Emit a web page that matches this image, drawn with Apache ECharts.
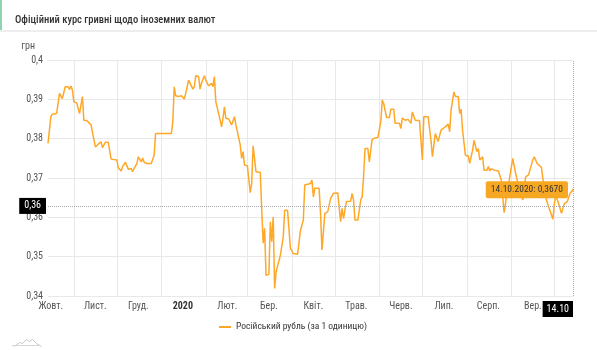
<!DOCTYPE html>
<html lang="uk">
<head>
<meta charset="utf-8">
<title>Офіційний курс гривні щодо іноземних валют</title>
<script src="https://cdn.jsdelivr.net/npm/echarts@6/dist/echarts.min.js"></script>
<style>
  html, body { margin: 0; padding: 0; background: #ffffff; }
  #chart { width: 597px; height: 350px; }
</style>
</head>
<body>
<div id="chart"></div>
<script>
// Official UAH rate for the Russian rouble, one year of quotes.
const titleText = 'Офіційний курс гривні щодо іноземних валют';
const seriesName = 'Російський рубль (за 1 одиницю)';
const unitName = 'грн';
const rangeStart = '2019-10-14';
const rangeEnd = '2020-10-14';
const monthNames = ['Січ.', 'Лют.', 'Бер.', 'Квіт.', 'Трав.', 'Черв.', 'Лип.', 'Серп.', 'Вер.', 'Жовт.', 'Лист.', 'Груд.'];
const yMin = 0.34, yMax = 0.40, yStep = 0.01;
const crosshairRate = 0.3629;

const rateDates = [
  '2019-10-14','2019-10-16','2019-10-17','2019-10-20','2019-10-22','2019-10-23','2019-10-24','2019-10-25',
  '2019-10-26','2019-10-28','2019-10-29','2019-10-30','2019-10-31','2019-11-01','2019-11-03','2019-11-05',
  '2019-11-07','2019-11-08','2019-11-10','2019-11-13','2019-11-16','2019-11-17','2019-11-18','2019-11-20',
  '2019-11-21','2019-11-23','2019-11-25','2019-11-27','2019-12-01','2019-12-02','2019-12-04','2019-12-05',
  '2019-12-07','2019-12-08','2019-12-09','2019-12-11','2019-12-12','2019-12-13','2019-12-14','2019-12-15',
  '2019-12-16','2019-12-18','2019-12-19','2019-12-20','2019-12-22','2019-12-25','2019-12-26','2019-12-27',
  '2019-12-28','2020-01-08','2020-01-09','2020-01-10','2020-01-11','2020-01-13','2020-01-15','2020-01-16',
  '2020-01-17','2020-01-18','2020-01-19','2020-01-20','2020-01-21','2020-01-23','2020-01-24','2020-01-25',
  '2020-01-27','2020-01-28','2020-01-29','2020-01-31','2020-02-01','2020-02-02','2020-02-03','2020-02-04',
  '2020-02-05','2020-02-06','2020-02-07','2020-02-08','2020-02-09','2020-02-11','2020-02-12','2020-02-13',
  '2020-02-14','2020-02-15','2020-02-17','2020-02-18','2020-02-19','2020-02-21','2020-02-22','2020-02-23',
  '2020-02-25','2020-02-26','2020-02-27','2020-02-28','2020-03-01','2020-03-03','2020-03-04','2020-03-05',
  '2020-03-07','2020-03-10','2020-03-11','2020-03-12','2020-03-13','2020-03-14','2020-03-16','2020-03-17',
  '2020-03-18','2020-03-19','2020-03-20','2020-03-21','2020-03-22','2020-03-24','2020-03-26','2020-03-27',
  '2020-03-29','2020-03-31','2020-04-02','2020-04-05','2020-04-07','2020-04-08','2020-04-09','2020-04-10',
  '2020-04-12','2020-04-14','2020-04-15','2020-04-16','2020-04-17','2020-04-20','2020-04-21','2020-04-22',
  '2020-04-24','2020-04-26','2020-04-28','2020-04-29','2020-04-30','2020-05-03','2020-05-04','2020-05-05',
  '2020-05-06','2020-05-07','2020-05-09','2020-05-12','2020-05-13','2020-05-14','2020-05-15','2020-05-17',
  '2020-05-19','2020-05-20','2020-05-21','2020-05-22','2020-05-24','2020-05-25','2020-05-26','2020-05-27',
  '2020-05-29','2020-05-31','2020-06-02','2020-06-03','2020-06-04','2020-06-06','2020-06-08','2020-06-09',
  '2020-06-11','2020-06-12','2020-06-15','2020-06-16','2020-06-17','2020-06-19','2020-06-21','2020-06-23',
  '2020-06-24','2020-06-26','2020-06-29','2020-07-01','2020-07-02','2020-07-05','2020-07-07','2020-07-08',
  '2020-07-10','2020-07-11','2020-07-12','2020-07-14','2020-07-15','2020-07-17','2020-07-19','2020-07-20',
  '2020-07-21','2020-07-23','2020-07-24','2020-07-26','2020-07-27','2020-07-28','2020-07-29','2020-07-31',
  '2020-08-02','2020-08-03','2020-08-05','2020-08-06','2020-08-08','2020-08-09','2020-08-10','2020-08-12',
  '2020-08-13','2020-08-15','2020-08-16','2020-08-17','2020-08-18','2020-08-20','2020-08-23','2020-08-25',
  '2020-08-26','2020-08-27','2020-08-29','2020-08-31','2020-09-02','2020-09-04','2020-09-06','2020-09-09',
  '2020-09-11','2020-09-13','2020-09-16','2020-09-17','2020-09-19','2020-09-22','2020-09-23','2020-09-25',
  '2020-09-27','2020-09-30','2020-10-01','2020-10-02','2020-10-04','2020-10-06','2020-10-07','2020-10-08',
  '2020-10-10','2020-10-12','2020-10-14'
];

const rateValues = [
  0.3788,0.3856,0.3862,0.3864,0.3915,0.3913,0.3902,0.3902,
  0.3932,0.3932,0.3925,0.3934,0.3924,0.3894,0.3891,0.3864,
  0.3907,0.3847,0.3846,0.3835,0.3779,0.3775,0.3786,0.3792,
  0.3777,0.3791,0.3791,0.3748,0.3746,0.3726,0.3718,0.3729,
  0.3740,0.3737,0.3722,0.3724,0.3716,0.3724,0.3720,0.3737,
  0.3754,0.3741,0.3751,0.3740,0.3737,0.3737,0.3741,0.3758,
  0.3813,0.3813,0.3843,0.3932,0.3909,0.3907,0.3909,0.3913,
  0.3901,0.3915,0.3917,0.3949,0.3947,0.3926,0.3932,0.3960,
  0.3958,0.3926,0.3941,0.3960,0.3949,0.3952,0.3934,0.3932,
  0.3941,0.3932,0.3958,0.3894,0.3890,0.3847,0.3830,0.3852,
  0.3881,0.3852,0.3850,0.3847,0.3835,0.3856,0.3835,0.3833,
  0.3784,0.3750,0.3767,0.3733,0.3731,0.3663,0.3686,0.3782,
  0.3716,0.3714,0.3620,0.3534,0.3572,0.3453,0.3455,0.3589,
  0.3538,0.3601,0.3419,0.3461,0.3461,0.3504,0.3550,0.3618,
  0.3618,0.3521,0.3508,0.3506,0.3567,0.3567,0.3593,0.3682,
  0.3684,0.3686,0.3695,0.3652,0.3674,0.3674,0.3610,0.3517,
  0.3610,0.3614,0.3648,0.3652,0.3661,0.3662,0.3661,0.3589,
  0.3623,0.3597,0.3640,0.3641,0.3661,0.3644,0.3593,0.3593,
  0.3644,0.3652,0.3703,0.3775,0.3775,0.3741,0.3746,0.3798,
  0.3802,0.3803,0.3843,0.3898,0.3890,0.3854,0.3854,0.3875,
  0.3875,0.3839,0.3839,0.3826,0.3852,0.3847,0.3849,0.3839,
  0.3868,0.3847,0.3846,0.3746,0.3856,0.3856,0.3796,0.3754,
  0.3813,0.3813,0.3793,0.3822,0.3820,0.3830,0.3837,0.3818,
  0.3873,0.3919,0.3907,0.3907,0.3864,0.3875,0.3822,0.3758,
  0.3756,0.3737,0.3771,0.3796,0.3767,0.3775,0.3746,0.3754,
  0.3720,0.3720,0.3729,0.3718,0.3724,0.3720,0.3718,0.3695,
  0.3652,0.3612,0.3660,0.3705,0.3750,0.3712,0.3680,0.3644,
  0.3703,0.3708,0.3746,0.3754,0.3737,0.3727,0.3699,0.3650,
  0.3627,0.3595,0.3635,0.3655,0.3635,0.3610,0.3610,0.3635,
  0.3640,0.3661,0.3670
];

const lineColor = '#ffa726';
const fontFamily = '"Roboto Condensed", "Liberation Sans Narrow", "DejaVu Sans Condensed", Roboto, sans-serif';

// one category per calendar day
function dayList(from, to) {
  const out = [];
  const end = Date.parse(to + 'T00:00:00Z');
  for (let t = Date.parse(from + 'T00:00:00Z'); t <= end; t += 86400000) {
    out.push(new Date(t).toISOString().slice(0, 10));
  }
  return out;
}
const days = dayList(rangeStart, rangeEnd);
const lastDay = days.length - 1;

const uaNumber = (v, digits) => v.toFixed(digits).replace('.', ',');
const uaDate = (iso) => iso.slice(8, 10) + '.' + iso.slice(5, 7) + '.' + iso.slice(0, 4);

const lastIdx = rateDates.length - 1;
const seriesData = rateDates.map((d, i) => {
  const item = { value: [d, rateValues[i]] };
  if (i === lastIdx) {
    item.symbol = 'circle';
    item.symbolSize = 2;
    item.label = {
      show: true,
      position: 'left',
      distance: 4,
      formatter: () => uaDate(d) + ': ' + uaNumber(rateValues[i], 4),
      backgroundColor: '#f7a823',
      color: '#333333',
      fontFamily: fontFamily,
      fontSize: 9.5,
      padding: [4, 5, 3, 5],
      borderRadius: 2
    };
  }
  return item;
});

const chart = echarts.init(document.getElementById('chart'), null, { renderer: 'canvas' });
chart.setOption({
  animation: false,
  backgroundColor: '#ffffff',
  textStyle: { fontFamily: fontFamily },
  title: {
    text: titleText,
    left: 10,
    top: 10,
    textStyle: { fontSize: 10.5, fontWeight: 500, color: '#333333', fontFamily: fontFamily }
  },
  graphic: [
    { type: 'rect', left: 0, top: 0, shape: { width: 2, height: 30 }, style: { fill: '#8fd3b2' }, silent: true },
    { type: 'rect', left: 0, top: 30, shape: { width: 597, height: 2 }, style: { fill: '#ededed' }, silent: true },
    {
      type: 'polyline', left: 12, top: 337, silent: true,
      shape: { points: [[0, 8], [5, 4], [8, 5], [12, 1], [15, 3], [18, 1], [22, 5], [27, 8]] },
      style: { stroke: '#c8c8c8', lineWidth: 1, fill: null }
    },
    { type: 'rect', left: 12, top: 345, shape: { width: 28, height: 1 }, style: { fill: '#d5d5d5' }, silent: true }
  ],
  legend: {
    left: 219,
    top: 322,
    padding: 0,
    icon: 'rect',
    itemWidth: 12,
    itemHeight: 2,
    itemGap: 10,
    textStyle: { fontSize: 9.5, color: '#333333', fontFamily: fontFamily },
    data: [seriesName]
  },
  grid: { left: 48, right: 24, top: 60, bottom: 54, outerBoundsMode: 'none' },
  xAxis: {
    type: 'category',
    data: days,
    boundaryGap: false,
    axisLine: { show: false },
    axisTick: { show: false },
    splitLine: {
      show: true,
      interval: (idx, val) => val.slice(8, 10) === '01',
      lineStyle: { color: '#e8e8e8', width: 1 }
    },
    axisLabel: {
      // every day gets a label slot; only mid-month days and the last day print text
      interval: 0,
      alignMaxLabel: 'right',
      margin: 5,
      fontSize: 10,
      color: '#555555',
      fontFamily: fontFamily,
      formatter: (val, idx) => {
        if (idx === lastDay) return '{ptr|' + val.slice(8, 10) + '.' + val.slice(5, 7) + '}';
        if (val.slice(8, 10) !== '16') return '';
        const m = +val.slice(5, 7);
        if (m === 1) return '{yr|' + val.slice(0, 4) + '}';
        return monthNames[m - 1];
      },
      rich: {
        yr: { fontWeight: 'bold', color: '#333333', fontSize: 10, fontFamily: fontFamily },
        ptr: { backgroundColor: '#000000', color: '#ffffff', fontSize: 10, padding: [3, 4, 3, 4], fontFamily: fontFamily }
      }
    },
    axisPointer: {
      show: true,
      status: 'show',
      value: lastDay,
      type: 'line',
      lineStyle: { color: '#aaaaaa', type: 'dotted', width: 1 },
      label: { show: false }
    }
  },
  yAxis: {
    type: 'value',
    min: yMin,
    max: yMax,
    interval: yStep,
    name: unitName,
    nameLocation: 'end',
    nameGap: 9,
    nameTextStyle: { color: '#555555', fontSize: 10, align: 'right', padding: [0, 13, 0, 0], fontFamily: fontFamily },
    axisLine: { show: false },
    axisTick: { show: false },
    splitLine: { show: true, lineStyle: { color: '#e8e8e8', width: 1 } },
    axisLabel: {
      margin: 5,
      fontSize: 10,
      color: '#555555',
      fontFamily: fontFamily,
      formatter: (v) => String(Math.round(v * 100) / 100).replace('.', ',')
    },
    axisPointer: {
      show: true,
      status: 'show',
      value: crosshairRate,
      type: 'line',
      lineStyle: { color: '#aaaaaa', type: 'dotted', width: 1 },
      label: {
        show: true,
        margin: 2,
        backgroundColor: '#000000',
        color: '#ffffff',
        fontSize: 10,
        fontFamily: fontFamily,
        padding: [3, 5, 3, 5],
        borderRadius: 0,
        formatter: (p) => uaNumber(p.value, 2)
      }
    }
  },
  series: [{
    name: seriesName,
    type: 'line',
    data: seriesData,
    symbol: 'none',
    showSymbol: true,
    showAllSymbol: true,
    smooth: false,
    color: lineColor,
    lineStyle: { color: lineColor, width: 1.5 },
    emphasis: { disabled: true }
  }]
});
</script>
</body>
</html>
